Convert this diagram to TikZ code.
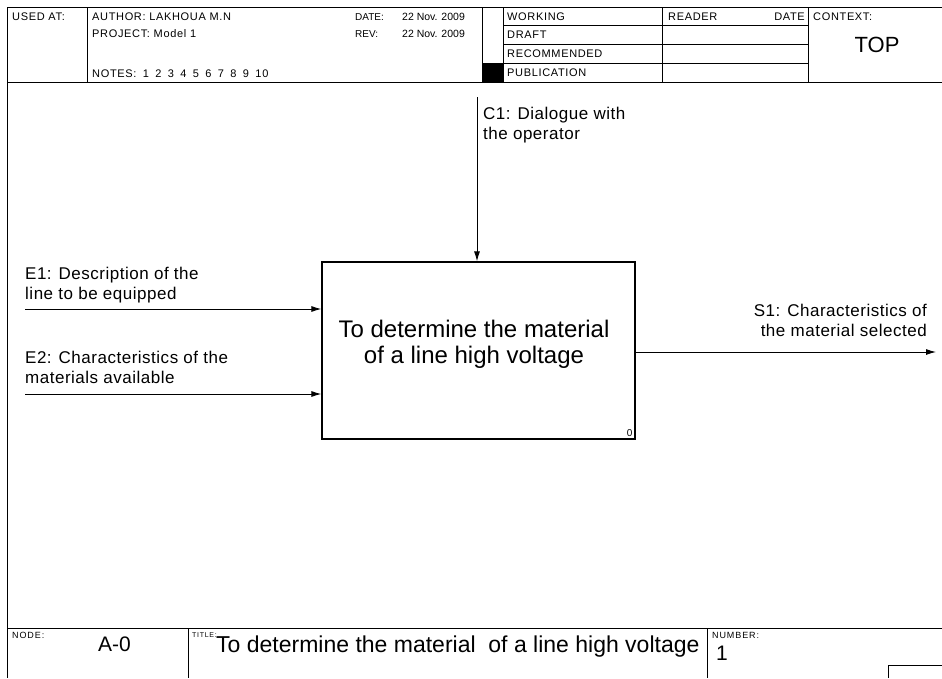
\documentclass[tikz,border=0pt]{standalone}
\usepackage{fontspec}
\setmainfont{Liberation Sans}
\newfontfamily\hdrfont{Liberation Sans}[LetterSpace=6]
\newfontfamily\lblfont{Liberation Sans}[LetterSpace=3]
\newfontfamily\tagfont{Liberation Sans}[LetterSpace=10]
\usetikzlibrary{arrows.meta}

\begin{document}
\begin{tikzpicture}[x=1pt, y=-1pt, >={Latex[length=10pt, width=6pt]},
    rule/.style={line width=0.9pt},
    flow/.style={->, line width=0.9pt},
    hdr/.style={anchor=base west, inner sep=0pt, font=\hdrfont\fontsize{11}{13}\selectfont},
    dte/.style={anchor=base west, inner sep=0pt, font=\fontsize{10}{12}\selectfont},
    tag/.style={anchor=north west, inner sep=0pt, font=\tagfont\fontsize{9}{10}\selectfont},
    lbl/.style={inner sep=0pt, align=left, font=\lblfont\fontsize{17}{20}\selectfont}]
  \useasboundingbox (0,0) rectangle (942,678);

  % header form
  \draw[rule] (942,7) -- (7,7) -- (7,678);
  \draw[rule] (7,82) -- (942,82);
  \foreach \x in {87,482,503,662,808}
    \draw[rule] (\x,7) -- (\x,82);
  \foreach \y in {25,44,63}
    \draw[rule] (503,\y) -- (808,\y);
  \fill (482,63) rectangle (503,82);

  \node[hdr] (usedat) at (12,20) {USED AT:};
  \node[hdr] (author) at (92,20) {AUTHOR:\ LAKHOUA M.N};
  \node[hdr] (project) at (92,37) {PROJECT: Model 1};
  \node[hdr] (notes) at (92,77) {\spaceskip=6.4pt NOTES: 1 2 3 4 5 6 7 8 9 10};
  \node[dte] (date) at (355,20) {DATE:};
  \node[dte, font=\fontsize{10.5}{12}\selectfont] (dateval) at (402,20) {22 Nov. 2009};
  \node[dte] (rev) at (355,37) {REV:};
  \node[dte, font=\fontsize{10.5}{12}\selectfont] (revval) at (402,37) {22 Nov. 2009};
  \foreach \n/\y/\s in {working/20/WORKING, draft/38/DRAFT, recommended/57/RECOMMENDED, publication/76/PUBLICATION}
    \node[hdr] (\n) at (507,\y) {\s};
  \node[hdr] (reader) at (668,20) {READER};
  \node[hdr, anchor=base east] (readdate) at (805,20) {DATE};
  \node[hdr] (context) at (813,20) {CONTEXT:};
  \node[inner sep=0pt, font=\fontsize{22}{24}\selectfont] (top) at (877,45) {TOP};

  % activity box
  \node[draw, line width=1.3pt, minimum width=313pt, minimum height=177pt, inner sep=0pt] (fn) at (478.5,350.5) {};
  \node[anchor=north, align=center, inner sep=0pt, font=\fontsize{24}{26}\selectfont] (fntxt) at (474,320)
    {To determine the material\\of a line high voltage};
  \node[anchor=south east, inner sep=3pt, font=\fontsize{10}{12}\selectfont] (fnnum) at (fn.south east) {0};

  % inputs, control, output
  \coordinate (e1src) at (25,309);
  \coordinate (e2src) at (25,394);
  \coordinate (c1src) at (477,97);
  \coordinate (s1dst) at (936,352);
  \draw[flow] (e1src) -- (e1src -| fn.west);
  \draw[flow] (e2src) -- (e2src -| fn.west);
  \draw[flow] (c1src) -- (c1src |- fn.north);
  \draw[flow] (s1dst -| fn.east) -- (s1dst);

  \node[lbl, anchor=north west] (e1lbl) at (25,267) {E1: Description of the\\line to be equipped};
  \node[lbl, anchor=north west] (e2lbl) at (25,351) {E2: Characteristics of the\\materials available};
  \node[lbl, anchor=north west] (c1lbl) at (483,107) {C1: Dialogue with\\the operator};
  \node[lbl, anchor=north east, align=right] (s1lbl) at (927,304) {S1: Characteristics of\\the material selected};

  % footer
  \draw[rule] (7,628) -- (942,628);
  \draw[rule] (188,628) -- (188,678);
  \draw[rule] (707,628) -- (707,678);
  \draw[rule] (888,678) -- (888,665) -- (942,665);
  \node[tag] (nodetag) at (12,632) {NODE:};
  \node[anchor=base west, inner sep=0pt, font=\fontsize{21}{24}\selectfont] (nodeid) at (98,651) {A-0};
  \node[tag, font=\tagfont\fontsize{7}{8}\selectfont] (titletag) at (192,632) {TITLE:};
  \node[anchor=base west, inner sep=0pt, font=\fontsize{23}{26}\selectfont] (title) at (216,652)
    {To determine the material\ \ of a line high voltage};
  \node[tag] (numtag) at (712,632) {NUMBER:};
  \node[anchor=base west, inner sep=0pt, font=\fontsize{21}{24}\selectfont] (num) at (716,660) {1};
\end{tikzpicture}
\end{document}
